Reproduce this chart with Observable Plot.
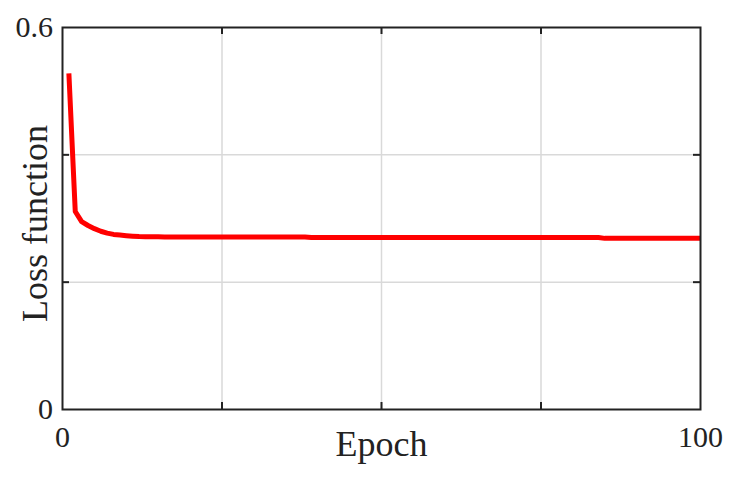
<!DOCTYPE html>
<html>
<head>
<meta charset="utf-8">
<script src="https://cdn.jsdelivr.net/npm/d3@7"></script>
<script src="https://cdn.jsdelivr.net/npm/@observablehq/plot@0.6"></script>
<style>
  html, body { margin: 0; padding: 0; background: #ffffff; }
  svg text { font-family: 'Liberation Serif', 'Times New Roman', serif; }
</style>
</head>
<body>
<div id="chart"></div>
<script>
// Data
const epochs = d3.range(1, 101);
const loss = [
  0.528, 0.311, 0.295, 0.289, 0.284, 0.280, 0.277, 0.275, 0.274, 0.273,
  0.2722, 0.2716, 0.2713, 0.2713, 0.2713, 0.2710, 0.2710, 0.2710, 0.2710, 0.2710,
  0.2710, 0.2710, 0.2710, 0.2710, 0.2710, 0.2710, 0.2710, 0.2710, 0.2710, 0.2710,
  0.2710, 0.2710, 0.2710, 0.2710, 0.2710, 0.2710, 0.2710, 0.2710, 0.2702, 0.2702,
  0.2702, 0.2702, 0.2702, 0.2702, 0.2702, 0.2702, 0.2702, 0.2702, 0.2702, 0.2702,
  0.2702, 0.2702, 0.2702, 0.2702, 0.2702, 0.2702, 0.2702, 0.2702, 0.2702, 0.2702,
  0.2702, 0.2702, 0.2702, 0.2702, 0.2702, 0.2702, 0.2702, 0.2702, 0.2702, 0.2702,
  0.2702, 0.2702, 0.2702, 0.2702, 0.2702, 0.2702, 0.2702, 0.2702, 0.2702, 0.2702,
  0.2702, 0.2702, 0.2702, 0.2702, 0.2688, 0.2688, 0.2688, 0.2688, 0.2688, 0.2688,
  0.2688, 0.2688, 0.2688, 0.2688, 0.2688, 0.2688, 0.2688, 0.2688, 0.2688, 0.2688
];
const xDomain = [0, 100];
const yDomain = [0, 0.6];
const xGridTicks = [25, 50, 75];
const yGridTicks = [0.2, 0.4];
const xTickLabels = [0, 100];
const yTickLabels = [0, 0.6];
const xTitle = "Epoch";
const yTitle = "Loss function";

const data = epochs.map((e, i) => ({epoch: e, loss: loss[i]}));

const W = 730, H = 488;
const mL = 62, mR = 30, mT = 27, mB = 79;
const innerW = W - mL - mR, innerH = H - mT - mB;
const tickLen = 7;
const ink = "#222222";
const serif = "'Liberation Serif', 'Times New Roman', serif";

const chart = Plot.plot({
  width: W,
  height: H,
  marginLeft: mL,
  marginRight: mR,
  marginTop: mT,
  marginBottom: mB,
  x: {domain: xDomain, label: null},
  y: {domain: yDomain, label: null},
  style: {
    fontFamily: serif,
    fontSize: "30px",
    color: ink,
    background: "#ffffff",
    overflow: "visible"
  },
  marks: [
    Plot.gridX(xGridTicks, {stroke: "#d9d9d9", strokeOpacity: 1, strokeWidth: 1.5}),
    Plot.gridY(yGridTicks, {stroke: "#d9d9d9", strokeOpacity: 1, strokeWidth: 1.5}),
    // inward tick marks on all four sides
    Plot.ruleX(xGridTicks, {x: d => d, insetTop: innerH - tickLen, stroke: ink, strokeWidth: 2}),
    Plot.ruleX(xGridTicks, {x: d => d, insetBottom: innerH - tickLen, stroke: ink, strokeWidth: 2}),
    Plot.ruleY(yGridTicks, {y: d => d, insetRight: innerW - tickLen, stroke: ink, strokeWidth: 2}),
    Plot.ruleY(yGridTicks, {y: d => d, insetLeft: innerW - tickLen, stroke: ink, strokeWidth: 2}),
    Plot.line(data, {x: "epoch", y: "loss", stroke: "#ff0000", strokeWidth: 5, strokeLinecap: "butt", strokeLinejoin: "round"}),
    Plot.frame({stroke: ink, strokeWidth: 2}),
    Plot.axisX(xTickLabels, {tickSize: 0, tickPadding: 16, fontSize: 30, fontFamily: serif, fontVariant: "normal", label: null}),
    Plot.axisY(yTickLabels, {tickSize: 0, tickPadding: 9.5, fontSize: 30, fontFamily: serif, fontVariant: "normal", label: null, tickFormat: d => String(d)}),
    Plot.text([xTitle], {text: d => d, frameAnchor: "bottom", textAnchor: "middle", lineAnchor: "middle", dy: 34.5, fontSize: 36, fontFamily: serif}),
    Plot.text([yTitle], {text: d => d, frameAnchor: "left", textAnchor: "middle", lineAnchor: "middle", rotate: -90, dx: -27.5, dy: 5, fontSize: 36, fontFamily: serif})
  ]
});

document.getElementById("chart").appendChild(chart);
</script>
</body>
</html>
